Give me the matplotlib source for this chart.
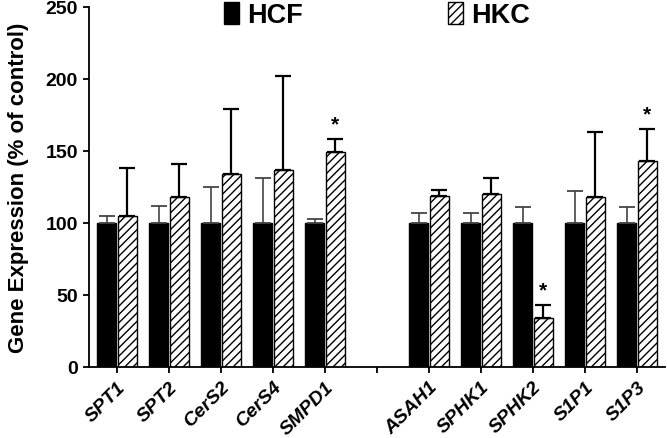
import numpy as np
import matplotlib.pyplot as plt

plt.rcParams['font.family'] = ['Liberation Sans', 'DejaVu Sans']
plt.rcParams['hatch.linewidth'] = 1.0

genes = ['SPT1', 'SPT2', 'CerS2', 'CerS4', 'SMPD1', '',
         'ASAH1', 'SPHK1', 'SPHK2', 'S1P1', 'S1P3']
hcf_mean = [100, 100, 100, 100, 100, np.nan, 100, 100, 100, 100, 100]
hcf_err = [5, 12, 25, 31, 3, np.nan, 7, 7, 11, 22, 11]
hkc_mean = [105, 118, 134, 137, 149, np.nan, 119, 120, 34, 118, 143]
hkc_err = [33, 23, 45, 65, 9, np.nan, 4, 11, 9, 45, 22]
signif = ['', '', '', '', '*', '', '', '', '*', '', '*']


def plot():
    fig = plt.figure(figsize=(6.67, 4.39), dpi=100)
    ax = fig.add_axes([0.1334, 0.162, 0.8636, 0.82])

    x = np.arange(len(genes))
    w = 0.36
    ax.bar(x - 0.2, hcf_mean, w, color='black', edgecolor='black',
           linewidth=1, label='HCF')
    ax.bar(x + 0.2, hkc_mean, w, color='white', edgecolor='black',
           linewidth=1, hatch='////', label='HKC')

    zeros = [0] * len(genes)
    ax.errorbar(x - 0.2, hcf_mean, yerr=[zeros, hcf_err], fmt='none',
                ecolor='#444444', elinewidth=1.2, capsize=5.5, capthick=1.3)
    ax.errorbar(x + 0.2, hkc_mean, yerr=[zeros, hkc_err], fmt='none',
                ecolor='black', elinewidth=1.6, capsize=6, capthick=1.6)

    for i, s in enumerate(signif):
        if s:
            ax.text(x[i] + 0.2, hkc_mean[i] + hkc_err[i] + 4, s,
                    ha='center', va='bottom', fontsize=15, fontweight='bold')

    ax.set_xlim(-0.54, 10.54)
    ax.set_ylim(0, 250)
    ax.set_yticks([0, 50, 100, 150, 200, 250])
    ax.set_xticks(x)
    ax.set_xticklabels(genes, rotation=45, ha='right', rotation_mode='anchor',
                       fontsize=14, fontweight='bold', fontstyle='italic')
    for lab in ax.get_yticklabels():
        lab.set_fontweight('bold')
        lab.set_fontsize(14)
    ax.set_ylabel('Gene Expression (% of control)', fontsize=16,
                  fontweight='bold', labelpad=12)

    for side in ['top', 'right']:
        ax.spines[side].set_visible(False)
    for side in ['left', 'bottom']:
        ax.spines[side].set_linewidth(1.3)
    ax.tick_params(width=1.3, length=4, pad=4)

    ax.legend(loc='center', bbox_to_anchor=(0.50, 0.978), ncol=2,
              frameon=False, prop={'weight': 'bold', 'size': 19.5},
              handlelength=0.57, handleheight=0.9, columnspacing=5.35,
              handletextpad=0.3)

    plt.savefig('out.png', dpi=100)


if __name__ == '__main__':
    plot()
